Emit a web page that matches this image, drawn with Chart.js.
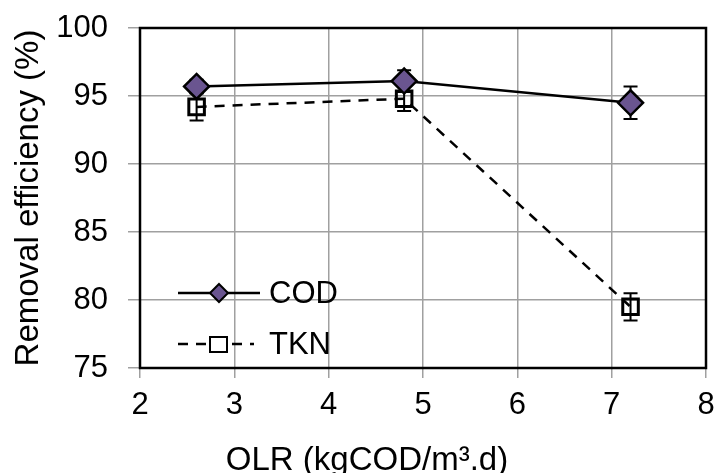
<!DOCTYPE html>
<html>
<head>
<meta charset="utf-8">
<script src="https://cdn.jsdelivr.net/npm/chart.js@4"></script>
<style>
  html, body { margin: 0; padding: 0; background: #fff; }
  #wrap { width: 721px; height: 473px; position: relative; }
</style>
</head>
<body>
<div id="wrap"><canvas id="chart" width="721" height="473"></canvas></div>
<script>
// OLR values (x) and removal efficiencies with error bars
const olr = [2.6, 4.8, 7.2];
const codValues = [95.7, 96.1, 94.5];
const codErr = [0.5, 0.8, 1.2];
const tknValues = [94.2, 94.8, 79.5];
const tknErr = [1.0, 0.9, 1.0];
const xTicks = [2, 3, 4, 5, 6, 7, 8];
const yTicks = [75, 80, 85, 90, 95, 100];
const xTitle = 'OLR (kgCOD/m³.d)';
const yTitle = 'Removal efficiency (%)';

const FONT = 'Liberation Sans, Arial, sans-serif';
const PURPLE = '#6a5590';

// error bars drawn through the scales
const errorBars = {
    id: 'errorBars',
    beforeDatasetsDraw(chart) {
        const { ctx, scales: { x, y } } = chart;
        ctx.save();
        ctx.strokeStyle = '#000';
        ctx.lineWidth = 2;
        chart.data.datasets.forEach(ds => {
            ds.data.forEach((p, i) => {
                const e = ds.errors[i];
                const px = x.getPixelForValue(p.x);
                const top = y.getPixelForValue(p.y + e);
                const bot = y.getPixelForValue(p.y - e);
                ctx.beginPath();
                ctx.moveTo(px, top); ctx.lineTo(px, bot);
                ctx.moveTo(px - 7, top); ctx.lineTo(px + 7, top);
                ctx.moveTo(px - 7, bot); ctx.lineTo(px + 7, bot);
                ctx.stroke();
            });
        });
        ctx.restore();
    }
};

// plot border, x title (centred on the page like the original) and legend
const frameAndLegend = {
    id: 'frameAndLegend',
    afterDraw(chart) {
        const { ctx, chartArea: a } = chart;
        ctx.save();
        ctx.strokeStyle = '#000';
        ctx.lineWidth = 2.5;
        ctx.strokeRect(a.left, a.top, a.right - a.left, a.bottom - a.top);

        const lx = a.left + 38, ly1 = 293, ly2 = 344;
        ctx.beginPath();
        ctx.moveTo(lx, ly1); ctx.lineTo(lx + 82, ly1);
        ctx.stroke();
        ctx.fillStyle = PURPLE;
        ctx.lineWidth = 2;
        ctx.beginPath();
        ctx.moveTo(lx + 41, ly1 - 9); ctx.lineTo(lx + 50, ly1);
        ctx.lineTo(lx + 41, ly1 + 9); ctx.lineTo(lx + 32, ly1);
        ctx.closePath();
        ctx.fill(); ctx.stroke();

        ctx.lineWidth = 2.5;
        ctx.setLineDash([10, 8]);
        ctx.beginPath();
        ctx.moveTo(lx, ly2); ctx.lineTo(lx + 76, ly2);
        ctx.stroke();
        ctx.setLineDash([]);
        ctx.fillStyle = '#fff';
        ctx.lineWidth = 2;
        ctx.fillRect(lx + 32, ly2 - 7, 17, 15);
        ctx.strokeRect(lx + 32, ly2 - 7, 17, 15);

        ctx.fillStyle = '#000';
        ctx.font = '31px ' + FONT;
        ctx.textBaseline = 'middle';
        ctx.fillText('COD', lx + 91, ly1 + 1);
        ctx.fillText('TKN', lx + 91, ly2 + 1);

        ctx.font = '33px ' + FONT;
        ctx.textAlign = 'center';
        ctx.textBaseline = 'alphabetic';
        ctx.fillText(xTitle, 367, 470);
        ctx.restore();
    }
};

const noOverflow = s => {
    s.paddingLeft = 0; s.paddingRight = 0;
    s.paddingTop = 0; s.paddingBottom = 0;
};

new Chart(document.getElementById('chart'), {
    type: 'scatter',
    data: {
        datasets: [
            {
                label: 'COD',
                data: olr.map((v, i) => ({ x: v, y: codValues[i] })),
                errors: codErr,
                showLine: true,
                borderColor: '#000',
                borderWidth: 2.5,
                pointStyle: 'rectRot',
                pointRadius: 12.5,
                pointBackgroundColor: PURPLE,
                pointBorderColor: '#000',
                pointBorderWidth: 2.5,
                order: 1
            },
            {
                label: 'TKN',
                data: olr.map((v, i) => ({ x: v, y: tknValues[i] })),
                errors: tknErr,
                showLine: true,
                borderColor: '#000',
                borderWidth: 2.5,
                borderDash: [10, 8],
                pointStyle: 'rect',
                pointRadius: 11,
                pointBackgroundColor: 'rgba(255,255,255,0)',
                pointBorderColor: '#000',
                pointBorderWidth: 3,
                order: 2
            }
        ]
    },
    options: {
        responsive: false,
        animation: false,
        layout: { padding: { top: 28, right: 9, left: 0, bottom: 0 } },
        plugins: {
            legend: { display: false },
            tooltip: { enabled: false }
        },
        scales: {
            x: {
                type: 'linear',
                min: 2, max: 8,
                afterBuildTicks: s => { s.ticks = xTicks.map(v => ({ value: v })); },
                afterFit: s => { s.height = 105; noOverflow(s); },
                grid: { color: '#a0a0a0', lineWidth: 1.5, tickLength: 10, tickColor: '#a0a0a0' },
                border: { display: false },
                ticks: { color: '#000', font: { family: FONT, size: 31 }, padding: 9 },
                title: { display: false }
            },
            y: {
                type: 'linear',
                min: 75, max: 100,
                afterBuildTicks: s => { s.ticks = yTicks.map(v => ({ value: v })); },
                afterFit: s => { s.width = 140; noOverflow(s); },
                grid: { color: '#a0a0a0', lineWidth: 1.5, tickLength: 12, tickColor: '#a0a0a0' },
                border: { display: false },
                ticks: { color: '#000', font: { family: FONT, size: 31 }, padding: 20 },
                title: {
                    display: true,
                    text: yTitle,
                    color: '#000',
                    font: { family: FONT, size: 33 },
                    padding: { top: 9, bottom: 0 }
                }
            }
        }
    },
    plugins: [errorBars, frameAndLegend]
});
</script>
</body>
</html>
